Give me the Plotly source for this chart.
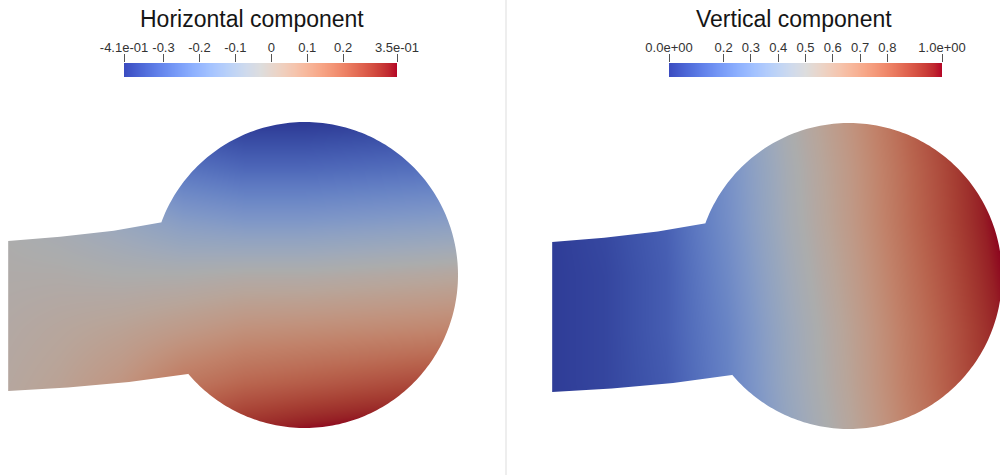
import numpy as np
import plotly.graph_objects as go

# ---------------- data ----------------
# grid of sample points (model units: circle centre at 0,0, radius 1)
grid_x = [-2.0, -1.6, -1.2, -0.8, -0.4, 0.0, 0.4, 0.8, 1.1]
grid_y = [-1.05, -0.7, -0.35, 0.0, 0.35, 0.7, 1.05]

# horizontal component (rows follow grid_y, bottom to top)
horizontal = [
    [0.01, 0.05, 0.11, 0.27, 0.33, 0.36, 0.38, 0.39, 0.40],
    [0.00, 0.03, 0.08, 0.16, 0.20, 0.22, 0.24, 0.26, 0.27],
    [-0.01, 0.01, 0.03, 0.06, 0.09, 0.10, 0.11, 0.12, 0.13],
    [-0.02, -0.02, -0.03, -0.03, -0.02, -0.02, -0.01, 0.00, 0.01],
    [-0.03, -0.06, -0.10, -0.15, -0.17, -0.17, -0.16, -0.15, -0.14],
    [-0.04, -0.09, -0.17, -0.28, -0.31, -0.31, -0.30, -0.29, -0.28],
    [-0.05, -0.12, -0.23, -0.40, -0.43, -0.43, -0.42, -0.41, -0.40],
]

# vertical component (rows follow grid_y, bottom to top)
vertical = [
    [0.00, 0.02, 0.08, 0.20, 0.39, 0.55, 0.72, 0.87, 0.98],
    [0.00, 0.03, 0.09, 0.22, 0.41, 0.57, 0.74, 0.89, 1.00],
    [0.00, 0.03, 0.10, 0.23, 0.42, 0.58, 0.75, 0.90, 1.01],
    [0.00, 0.03, 0.10, 0.25, 0.44, 0.60, 0.77, 0.92, 1.03],
    [0.00, 0.04, 0.11, 0.27, 0.46, 0.62, 0.79, 0.94, 1.05],
    [0.00, 0.04, 0.12, 0.28, 0.47, 0.63, 0.80, 0.95, 1.06],
    [0.00, 0.04, 0.13, 0.30, 0.49, 0.65, 0.82, 0.97, 1.08],
]

h_range = [-0.41, 0.35]
v_range = [0.0, 1.0]
h_tickvals = [-0.41, -0.3, -0.2, -0.1, 0.0, 0.1, 0.2, 0.35]
h_ticktext = ["-4.1e-01", "-0.3", "-0.2", "-0.1", "0", "0.1", "0.2", "3.5e-01"]
v_tickvals = [0.0, 0.2, 0.3, 0.4, 0.5, 0.6, 0.7, 0.8, 1.0]
v_ticktext = ["0.0e+00", "0.2", "0.3", "0.4", "0.5", "0.6", "0.7", "0.8", "1.0e+00"]
titles = ["Horizontal component", "Vertical component"]

# deformed outline of the body (beam + disc)
beam_top_x = [-1.94, -1.6, -1.25, -0.935]
beam_top_y = [0.222, 0.25, 0.29, 0.345]
beam_bot_x = [-1.94, -1.55, -1.15, -0.765]
beam_bot_y = [-0.758, -0.735, -0.70, -0.647]
disc_centre = (0.0, 0.0)
disc_radius = 1.0
arc_start_deg = 159.8
arc_end_deg = -139.8

# ---------------- style ----------------
cw_rgb = [
    (59, 76, 192), (68, 90, 204), (77, 104, 215), (87, 117, 225), (98, 130, 234),
    (108, 142, 241), (119, 154, 247), (130, 165, 251), (141, 176, 254), (152, 185, 255),
    (163, 194, 255), (174, 201, 253), (184, 208, 249), (194, 213, 244), (204, 217, 238),
    (213, 219, 230), (221, 221, 221), (229, 216, 209), (236, 211, 197), (241, 204, 185),
    (245, 196, 173), (247, 187, 160), (247, 177, 148), (247, 166, 135), (244, 154, 123),
    (241, 141, 111), (236, 127, 99), (229, 112, 88), (222, 96, 77), (213, 80, 66),
    (203, 62, 56), (192, 40, 47), (180, 4, 38),
]


def make_scale(shade):
    n = len(cw_rgb) - 1
    return [[i / n, "rgb(%d,%d,%d)" % tuple(round(c * shade) for c in rgb)]
            for i, rgb in enumerate(cw_rgb)]


bar_scale = make_scale(1.0)
body_scale = make_scale(0.78)

FONT = "Liberation Sans, Arial, sans-serif"

# panel geometry (paper domains and model-unit ranges)
panels = [
    dict(xdom=[0.0, 0.505], xr=[-1.9935, 1.3072], yr=[-1.3072, 1.7974],
         bardom=[0.124, 0.397], title_x=0.252),
    dict(xdom=[0.507, 1.0], xr=[-2.2353, 0.98693], yr=[-1.3007, 1.8039],
         bardom=[0.669, 0.942], title_x=0.7935),
]
bar_ydom = [1 - 77 / 475, 1 - 63 / 475]

fields = [horizontal, vertical]
ranges = [h_range, v_range]
tickvals = [h_tickvals, v_tickvals]
ticktexts = [h_ticktext, v_ticktext]

fig = go.Figure()
layout = dict(
    width=1000, height=475,
    margin=dict(l=0, r=0, t=0, b=0, pad=0, autoexpand=False),
    paper_bgcolor="white", plot_bgcolor="white", showlegend=False,
    font=dict(family=FONT),
)
shapes = []
annotations = []


def outline_path():
    th = np.radians(np.linspace(arc_start_deg, arc_end_deg, 240))
    ax_ = disc_centre[0] + disc_radius * np.cos(th)
    ay_ = disc_centre[1] + disc_radius * np.sin(th)
    pts = list(zip(beam_top_x, beam_top_y))
    pts += list(zip(ax_, ay_))
    pts += list(zip(beam_bot_x[::-1], beam_bot_y[::-1]))
    p = "M %.4f,%.4f " % pts[0]
    p += " ".join("L %.4f,%.4f" % q for q in pts[1:]) + " Z"
    outer = "M -2.6,-1.45 L 1.5,-1.45 L 1.5,1.28 L -2.6,1.28 Z "
    return outer + p


for i, pnl in enumerate(panels):
    k = i * 2 + 1
    kb = i * 2 + 2
    xa = "x" if k == 1 else "x%d" % k
    ya = "y" if k == 1 else "y%d" % k
    xb = "x%d" % kb
    yb = "y%d" % kb

    # body field
    fig.add_trace(go.Heatmap(
        x=grid_x, y=grid_y, z=fields[i], zmin=ranges[i][0], zmax=ranges[i][1],
        colorscale=body_scale, zsmooth="best", showscale=False, hoverinfo="skip",
        xaxis=xa, yaxis=ya,
    ))
    layout["xaxis" if k == 1 else "xaxis%d" % k] = dict(
        domain=pnl["xdom"], range=pnl["xr"], visible=False, anchor=ya,
        fixedrange=True, automargin=False)
    layout["yaxis" if k == 1 else "yaxis%d" % k] = dict(
        domain=[0, 1], range=pnl["yr"], visible=False, anchor=xa,
        fixedrange=True, automargin=False)

    # white mask around the body
    shapes.append(dict(type="path", path=outline_path(), xref=xa, yref=ya,
                       fillcolor="white", fillrule="evenodd", line=dict(width=0),
                       layer="above"))

    # colour bar
    fig.add_trace(go.Heatmap(
        x=ranges[i], y=[0, 1], z=[ranges[i], ranges[i]],
        zmin=ranges[i][0], zmax=ranges[i][1], colorscale=bar_scale,
        zsmooth="best", showscale=False, hoverinfo="skip", xaxis=xb, yaxis=yb,
    ))
    layout["xaxis%d" % kb] = dict(
        domain=pnl["bardom"], range=ranges[i], anchor=yb, side="top",
        tickmode="array", tickvals=tickvals[i], ticktext=ticktexts[i],
        ticks="outside", ticklen=8, tickwidth=1, tickcolor="#555",
        ticklabelstandoff=-3,
        tickfont=dict(size=13, color="#333", family=FONT),
        showgrid=False, zeroline=False, showline=False, fixedrange=True,
        automargin=False)
    layout["yaxis%d" % kb] = dict(domain=bar_ydom, range=[0, 1], visible=False,
                                  anchor=xb, fixedrange=True, automargin=False)

    annotations.append(dict(
        text=titles[i], x=pnl["title_x"], y=1 - 19 / 475, xref="paper", yref="paper",
        xanchor="center", yanchor="middle", showarrow=False,
        font=dict(size=23, color="#151515", family=FONT)))

# light divider between the two views
shapes.append(dict(type="line", xref="paper", yref="paper", x0=0.506, x1=0.506,
                   y0=0, y1=1, line=dict(color="#eeeeee", width=2), layer="below"))

layout["shapes"] = shapes
layout["annotations"] = annotations
fig.update_layout(**layout)
fig.write_html("out.html")
